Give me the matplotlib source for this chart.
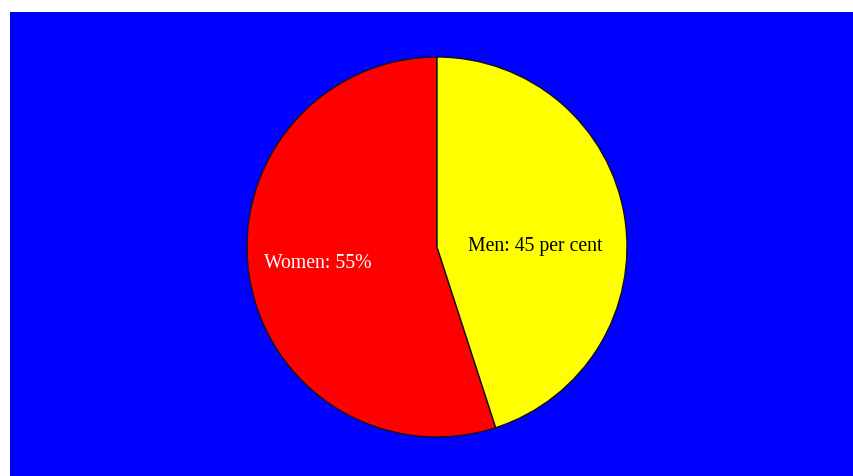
import numpy as np
import matplotlib
matplotlib.use('Agg')
import matplotlib.pyplot as plt

# slice data
labels = ['Women: 55%', 'Men: 45 per cent']
shares = [55, 45]
colors = ['#ff0000', '#ffff00']
text_colors = ['white', 'black']

fig = plt.figure(figsize=(8.54, 4.76), dpi=100)
fig.patch.set_facecolor('white')

# blue backdrop
bg = fig.add_axes([10 / 854, 0, 844 / 854, 464 / 476])
bg.set_facecolor('#0000ff')
bg.set_xticks([])
bg.set_yticks([])
for s in bg.spines.values():
    s.set_visible(False)

# pie axes
ax = fig.add_axes([(437 - 190) / 854, (476 - 437) / 476, 380 / 854, 380 / 476])
ax.set_facecolor('none')
wedges, _ = ax.pie(shares, colors=colors, startangle=90, counterclock=True,
                   wedgeprops=dict(edgecolor='#101020', linewidth=1.0))
ax.set_xlim(-1.0, 1.0)
ax.set_ylim(-1.0, 1.0)
ax.set_aspect('equal')
ax.axis('off')

# label spots (fraction of radius)
label_pos = [(-0.625, -0.085), (0.515, 0.0)]
for lab, tc, (lx, ly) in zip(labels, text_colors, label_pos):
    ax.text(lx, ly, lab, ha='center', va='center',
            color=tc, fontsize=14.2, family='Liberation Serif')

fig.savefig('out.png', dpi=100)
